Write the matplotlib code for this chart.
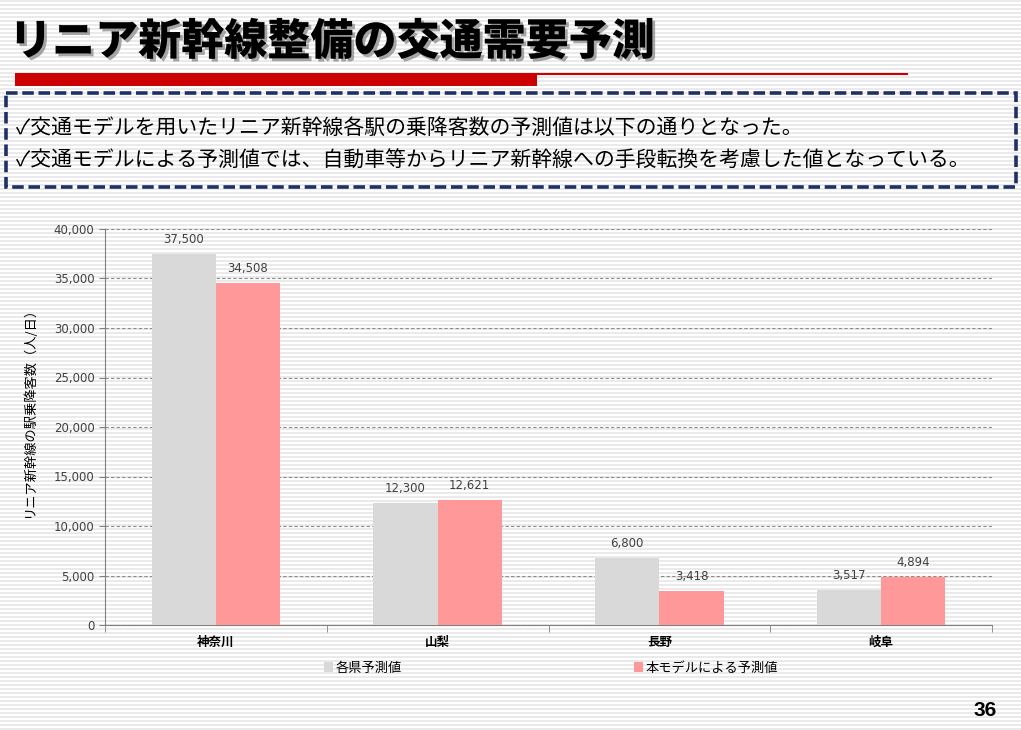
import numpy as np
import matplotlib.pyplot as plt
import matplotlib.patheffects as pe
from matplotlib.patches import Rectangle

plt.rcParams['font.family'] = ['Noto Sans CJK JP', 'DejaVu Sans']

# データ
categories = ['神奈川', '山梨', '長野', '岐阜']
pref_forecast = [37500, 12300, 6800, 3517]
model_forecast = [34508, 12621, 3418, 4894]
series_names = ['各県予測値', '本モデルによる予測値']

title = 'リニア新幹線整備の交通需要予測'
bullets = ['✓交通モデルを用いたリニア新幹線各駅の乗降客数の予測値は以下の通りとなった。',
           '✓交通モデルによる予測値では、自動車等からリニア新幹線への手段転換を考慮した値となっている。']
ylabel = 'リニア新幹線の駅乗降客数（人/日）'

W, H = 1021, 730
fig = plt.figure(figsize=(W / 100, H / 100), dpi=100)

# 背景のしま模様
bg = fig.add_axes([0, 0, 1, 1], zorder=-10)
bg.set_xlim(0, W)
bg.set_ylim(H, 0)
bg.axis('off')
for yy in np.arange(1, H, 4):
    bg.axhline(yy, color='#e6e6e6', lw=1.2, zorder=0)

# タイトル
bg.text(9, 42, title, fontsize=31, fontweight='black', color='black', va='center', zorder=5,
        path_effects=[pe.withSimplePatchShadow(offset=(2, -2), shadow_rgbFace='#909090', alpha=0.8)])

# 赤いライン
bg.add_patch(Rectangle((15, 73), 522, 13, color='#cc0000', lw=0, zorder=5))
bg.plot([537, 907], [74, 74], color='#cc0000', lw=1.5, zorder=5)

# 点線の枠
bg.add_patch(Rectangle((6, 93), 1010, 94, fill=False, ec='#1f3064', lw=2.6,
                       ls=(0, (3.2, 1.3)), zorder=5))
bg.text(16, 128, bullets[0], fontsize=15, va='center', color='black', zorder=5)
bg.text(16, 161, bullets[1], fontsize=15, va='center', color='black', zorder=5)

# ページ番号
bg.text(997, 711, '36', fontsize=15, fontweight='bold', ha='right', va='center',
        family=['Liberation Sans', 'DejaVu Sans'], zorder=5)

# グラフ
num_font = ['DejaVu Sans']
ax = fig.add_axes([105 / W, 1 - 625 / H, (992 - 105) / W, (625 - 229) / H])
ax.set_facecolor('none')
x = np.arange(len(categories))
w = 0.29
b1 = ax.bar(x - w / 2, pref_forecast, w, color='#d9d9d9', label=series_names[0], zorder=3)
b2 = ax.bar(x + w / 2, model_forecast, w, color='#ff9999', label=series_names[1], zorder=3)
for bars in (b1, b2):
    for r in bars:
        v = r.get_height()
        ax.text(r.get_x() + r.get_width() / 2, v + 800, f'{v:,.0f}', ha='center',
                va='bottom', fontsize=8.5, color='#404040', zorder=4, family=num_font)

ax.set_xlim(-0.5, len(categories) - 0.5)
ax.set_ylim(0, 40000)
ax.set_yticks(range(0, 40001, 5000))
ax.set_yticklabels([f'{v:,}' for v in range(0, 40001, 5000)], fontsize=8.5, color='#404040',
                   family=num_font)
ax.yaxis.grid(True, ls=(0, (3, 2)), color='#8c8c8c', lw=0.8, zorder=0)
ax.set_xticks(x)
ax.set_xticklabels(categories, fontsize=9, fontweight='bold')
ax.tick_params(axis='x', length=0, pad=8)
ax.set_xticks(np.arange(-0.5, len(categories), 1), minor=True)
ax.tick_params(axis='x', which='minor', length=5, color='#808080')
ax.tick_params(axis='y', length=4, color='#808080')
for s in ['top', 'right']:
    ax.spines[s].set_visible(False)
ax.spines['left'].set_color('#808080')
ax.spines['bottom'].set_color('#808080')
ax.set_ylabel(ylabel, fontsize=9.5)
ax.yaxis.set_label_coords(-0.078, 0.545)

# 凡例
leg1 = fig.legend(handles=[b1], labels=[series_names[0]], loc='center left',
                  bbox_to_anchor=(312 / W, 1 - 668 / H), frameon=False, fontsize=9.5,
                  handlelength=0.7, handleheight=0.7, handletextpad=0.2)
leg2 = fig.legend(handles=[b2], labels=[series_names[1]], loc='center left',
                  bbox_to_anchor=(622 / W, 1 - 668 / H), frameon=False, fontsize=9.5,
                  handlelength=0.7, handleheight=0.7, handletextpad=0.2)

fig.savefig('out.png', dpi=100)
